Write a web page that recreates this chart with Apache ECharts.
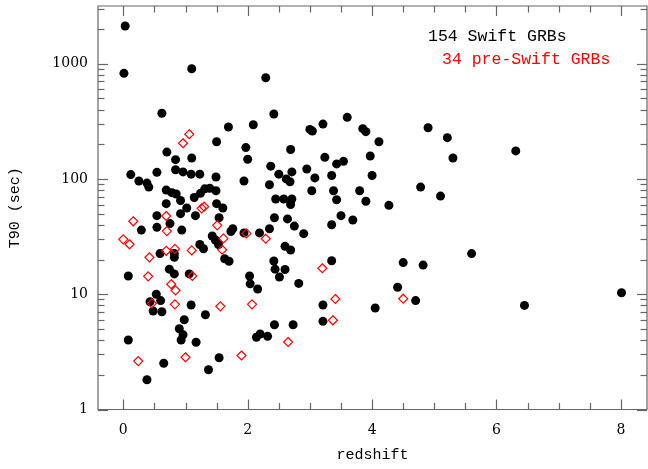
<!DOCTYPE html>
<html>
<head>
<meta charset="utf-8">
<script src="https://cdn.jsdelivr.net/npm/echarts@6/dist/echarts.min.js"></script>
<style>
  html, body { margin: 0; padding: 0; background: #fff; }
  #chart { width: 648px; height: 469px; }
</style>
</head>
<body>
<div id="chart"></div>
<script>
// Swift GRBs: redshift and T90 (sec)
const swiftZ = [
  0.03, 0.01, 1.10, 0.62, 1.69, 2.09, 1.50, 1.97, 0.70, 0.84,
  1.10, 2.00, 0.12, 0.25, 0.38, 0.41, 0.54, 0.84, 0.96, 1.09,
  1.23, 1.49, 1.94, 0.69, 0.78, 0.85, 0.92, 0.69, 1.02, 0.92,
  1.14, 1.24, 1.31, 1.39, 1.49, 1.50, 1.60, 1.16, 1.54, 0.54,
  0.54, 0.75, 0.29, 0.94, 1.43, 1.48, 1.53, 1.94, 2.19, 1.73,
  1.76, 1.23, 1.29, 0.59, 0.82, 0.82, 1.63, 1.70, 0.74, 0.82,
  0.08, 1.06, 2.03, 2.04, 0.53, 0.43, 0.60, 0.48, 0.62, 1.09,
  1.32, 2.16, 0.98, 0.90, 0.96, 0.93, 1.17, 0.08, 2.14, 2.20,
  2.32, 1.54, 0.65, 1.37, 0.38, 2.29, 2.42, 2.69, 3.00, 3.04,
  3.21, 3.60, 3.85, 3.90, 4.11, 4.90, 3.24, 3.54, 3.43, 3.97,
  2.37, 2.71, 2.50, 2.62, 2.68, 2.95, 3.08, 3.35, 4.00, 2.35,
  3.03, 3.38, 3.80, 3.43, 3.90, 4.78, 5.10, 4.27, 2.45, 2.58,
  2.71, 2.69, 2.43, 2.64, 2.75, 2.35, 2.90, 3.35, 3.50, 3.69,
  2.60, 2.69, 2.42, 2.44, 2.60, 3.35, 4.50, 4.82, 2.51, 2.82,
  4.41, 3.21, 3.21, 4.05, 4.70, 2.43, 2.73, 5.21, 6.31, 5.30,
  5.60, 8.01, 6.45
];
const swiftT90 = [
  2120, 824, 903, 371, 282, 295, 210, 187, 171, 147,
  152, 148, 109, 96, 92, 85, 114, 120, 115, 110,
  110, 104, 96, 80, 76, 74, 65, 61, 56, 50,
  69, 75, 82, 83, 79, 61, 56, 48, 46, 48,
  38, 41, 36, 36, 32, 29.5, 27, 34, 34, 35,
  37, 27, 24.8, 22.5, 22.6, 20.9, 20.3, 19.3, 16.5, 15.0,
  14.4, 15.0, 14.4, 12.3, 10.0, 8.6, 8.8, 7.15, 7.05, 8.06,
  6.64, 11.1, 6.01, 5.02, 4.45, 4.01, 3.83, 4.01, 4.23, 4.52,
  4.31, 2.81, 2.52, 2.21, 1.81, 755, 366, 180, 269, 260,
  299, 342, 273, 257, 210, 278, 154, 142, 135, 158,
  129, 115, 110, 100, 94.6, 122, 102, 107, 107, 89,
  79, 79, 79, 66, 64, 85, 71, 59, 67, 67,
  67, 60, 46, 45, 39, 37, 33.5, 40, 48, 44,
  26, 24.2, 19.4, 16.5, 16.4, 19.5, 18.8, 17.9, 14.1, 12.4,
  11.5, 8.06, 5.82, 7.6, 8.8, 5.44, 5.44, 228, 175, 152,
  22.5, 10.3, 8.0
];

// pre-Swift GRBs
const preZ = [
  1.06, 0.96, 1.26, 1.30, 0.16, 0.69, 0.70, 1.51, 1.61, 1.98,
  0.00, 0.10, 1.59, 1.10, 0.83, 0.69, 0.42, 0.40, 1.11, 0.77,
  0.84, 0.46, 0.83, 1.56, 2.07, 0.24, 1.00, 1.90, 2.29, 3.20,
  3.41, 3.37, 4.50, 2.65
];
const preT90 = [
  244, 204, 55.6, 57.4, 42.9, 47.7, 35.3, 39.6, 30.5, 33.7,
  29.9, 27.1, 24.3, 24.0, 24.7, 23.8, 20.9, 14.3, 14.4, 12.2,
  10.8, 8.34, 8.17, 7.85, 8.17, 2.63, 2.84, 2.94, 30.3, 16.8,
  9.09, 5.94, 9.14, 3.85
];

// axis ticks
const xMajorTicks = [0, 2, 4, 6, 8];
const xMinorTicks = [0.5, 1, 1.5, 2.5, 3, 3.5, 4.5, 5, 5.5, 6.5, 7, 7.5];
const yMajorTicks = [1, 10, 100, 1000];
const yMinorTicks = [
  2, 3, 4, 5, 6, 7, 8, 9,
  20, 30, 40, 50, 60, 70, 80, 90,
  200, 300, 400, 500, 600, 700, 800, 900,
  2000, 3000
];

const xMin = -0.407, xMax = 8.42;
const yMin = 1, yMax = 3162;
const frameColor = '#666';

const swiftData = swiftZ.map((z, i) => [z, swiftT90[i]]);
const preData = preZ.map((z, i) => [z, preT90[i]]);

// kind: 0 x major, 1 x minor, 2 y major, 3 y minor
const tickData = []
  .concat(xMajorTicks.map(v => [v, yMin, 0]))
  .concat(xMinorTicks.map(v => [v, yMin, 1]))
  .concat(yMajorTicks.map(v => [xMin, v, 2]))
  .concat(yMinorTicks.map(v => [xMin, v, 3]));

function renderTick(params, api) {
  const cs = params.coordSys;
  const kind = api.value(2);
  const p = api.coord([api.value(0), api.value(1)]);
  const len = (kind === 0 || kind === 2) ? 10 : 6.5;
  const style = { stroke: frameColor, lineWidth: 1.2 };
  let a, b;
  if (kind < 2) {
    const x = Math.round(p[0]) + 0.5;
    const bottom = cs.y + cs.height;
    a = { x1: x, y1: bottom, x2: x, y2: bottom - len };
    b = { x1: x, y1: cs.y, x2: x, y2: cs.y + len };
  } else {
    const y = Math.round(p[1]) + 0.5;
    const right = cs.x + cs.width;
    a = { x1: cs.x, y1: y, x2: cs.x + len, y2: y };
    b = { x1: right, y1: y, x2: right - len, y2: y };
  }
  return {
    type: 'group',
    children: [
      { type: 'line', shape: a, style: style },
      { type: 'line', shape: b, style: style }
    ]
  };
}

const chart = echarts.init(document.getElementById('chart'));
chart.setOption({
  animation: false,
  backgroundColor: '#fff',
  grid: {
    show: true,
    left: 98,
    right: 1,
    top: 6,
    bottom: 59.5,
    borderColor: frameColor,
    borderWidth: 1.2
  },
  xAxis: {
    type: 'value',
    min: xMin,
    max: xMax,
    name: 'redshift',
    nameLocation: 'middle',
    nameGap: 38,
    nameTextStyle: { fontFamily: 'Liberation Mono', fontSize: 15, color: '#000' },
    axisLine: { show: false },
    axisTick: { show: false },
    splitLine: { show: false },
    axisLabel: {
      customValues: xMajorTicks,
      margin: 14,
      fontFamily: 'DejaVu Serif',
      fontSize: 14,
      color: '#000'
    }
  },
  yAxis: {
    type: 'log',
    logBase: 10,
    min: yMin,
    max: yMax,
    name: 'T90 (sec)',
    nameLocation: 'middle',
    nameGap: 75,
    nameTextStyle: { fontFamily: 'Liberation Mono', fontSize: 15, color: '#000' },
    axisLine: { show: false },
    axisTick: { show: false },
    splitLine: { show: false },
    axisLabel: {
      margin: 10,
      showMaxLabel: false,
      fontFamily: 'DejaVu Serif',
      fontSize: 14,
      color: '#000',
      formatter: function (v) {
        const r = Math.round(v);
        return yMajorTicks.indexOf(r) >= 0 ? String(r) : '';
      }
    }
  },
  graphic: [
    {
      type: 'text',
      x: 428,
      y: 37,
      style: {
        text: '154 Swift GRBs',
        fill: '#000',
        font: '16.5px "Liberation Mono"',
        verticalAlign: 'middle'
      }
    },
    {
      type: 'text',
      x: 442,
      y: 60,
      style: {
        text: '34 pre-Swift GRBs',
        fill: '#ff0000',
        font: '16.5px "Liberation Mono"',
        verticalAlign: 'middle'
      }
    }
  ],
  series: [
    {
      type: 'scatter',
      data: swiftData,
      symbol: 'circle',
      symbolSize: 9,
      itemStyle: { color: '#000', opacity: 1 },
      silent: true
    },
    {
      type: 'scatter',
      data: preData,
      symbol: 'diamond',
      symbolSize: 9,
      itemStyle: { color: 'rgba(0,0,0,0)', borderColor: '#ff0000', borderWidth: 1.2, opacity: 1 },
      silent: true
    },
    {
      type: 'custom',
      data: tickData,
      renderItem: renderTick,
      clip: false,
      silent: true,
      z: 5
    }
  ]
});
</script>
</body>
</html>
